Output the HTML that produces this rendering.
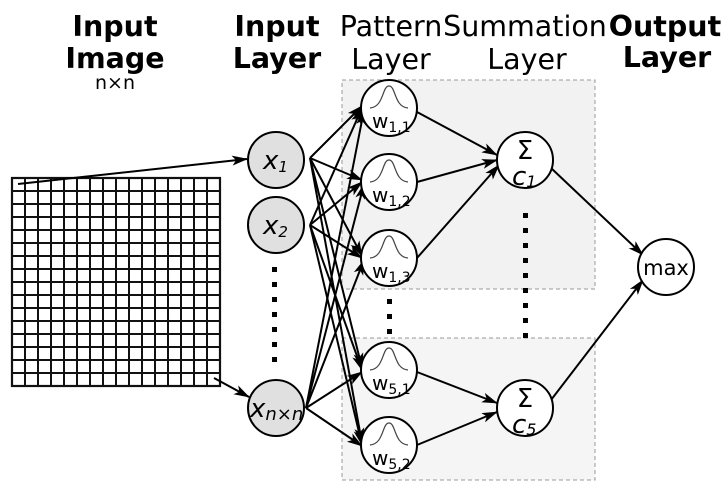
<!DOCTYPE html>
<html><head><meta charset="utf-8"><style>body{margin:0;background:#fff}svg{display:block}</style></head><body>
<svg width="727" height="487" xmlns="http://www.w3.org/2000/svg" font-family="DejaVu Sans, sans-serif">
<defs><marker id="a" markerWidth="16" markerHeight="10" refX="15" refY="5" orient="auto" markerUnits="userSpaceOnUse"><path d="M0,0 L16,5 L0,10 L4,5Z" fill="#000"/></marker></defs>
<g font-size="28.5" text-anchor="middle">
<text x="115" y="36" font-weight="bold">Input</text>
<text x="115" y="68" font-weight="bold">Image</text>
<text x="115" y="89" font-size="19">n×n</text>
<text x="277" y="36" font-weight="bold">Input</text>
<text x="277" y="68" font-weight="bold">Layer</text>
<text x="391" y="36">Pattern</text>
<text x="391" y="69">Layer</text>
<text x="525" y="36">Summation</text>
<text x="527" y="69">Layer</text>
<text x="665" y="36" font-weight="bold">Output</text>
<text x="667" y="67" font-weight="bold">Layer</text>
</g>
<rect x="342" y="80" width="253" height="209" fill="#f2f2f2" stroke="#999" stroke-dasharray="4,3"/>
<rect x="342" y="338" width="253" height="142" fill="#f5f5f5" stroke="#999" stroke-dasharray="4,3"/>
<g stroke="#111" stroke-width="2" fill="none">
<rect x="12" y="178" width="208" height="208" stroke-width="2.2"/>
<path d="M25,178V386M38,178V386M51,178V386M64,178V386M77,178V386M90,178V386M103,178V386M116,178V386M129,178V386M142,178V386M155,178V386M168,178V386M181,178V386M194,178V386M207,178V386
M12,191H220M12,204H220M12,217H220M12,230H220M12,243H220M12,256H220M12,269H220M12,282H220M12,295H220M12,308H220M12,321H220M12,334H220M12,347H220M12,360H220M12,373H220"/>
</g>
<g stroke="#000" stroke-width="2" marker-end="url(#a)">
<line x1="18" y1="184" x2="247" y2="159"/>
<line x1="214" y1="378" x2="249" y2="397"/>
<line x1="310" y1="158" x2="362" y2="106"/><line x1="310" y1="158" x2="362" y2="180"/><line x1="310" y1="158" x2="362" y2="256"/><line x1="310" y1="158" x2="362" y2="368"/><line x1="310" y1="158" x2="362" y2="443"/>
<line x1="310" y1="225" x2="362" y2="108"/><line x1="310" y1="225" x2="362" y2="182"/><line x1="310" y1="225" x2="362" y2="258"/><line x1="310" y1="225" x2="362" y2="370"/><line x1="310" y1="225" x2="362" y2="445"/>
<line x1="306" y1="408" x2="364" y2="110"/><line x1="306" y1="408" x2="364" y2="184"/><line x1="306" y1="408" x2="364" y2="260"/><line x1="306" y1="408" x2="362" y2="372"/><line x1="306" y1="408" x2="362" y2="446"/>
<line x1="417" y1="112" x2="497" y2="155"/><line x1="417" y1="182" x2="497" y2="160"/><line x1="417" y1="258" x2="499" y2="165"/>
<line x1="417" y1="372" x2="497" y2="403"/><line x1="417" y1="445" x2="497" y2="412"/>
<line x1="551" y1="168" x2="643" y2="255"/><line x1="551" y1="400" x2="643" y2="280"/>
</g>
<g stroke="#000" stroke-width="2">
<circle cx="276" cy="160" r="28" fill="#e0e0e0"/><circle cx="276" cy="225" r="28" fill="#e0e0e0"/><circle cx="276" cy="408" r="28" fill="#e0e0e0"/>
<circle cx="389" cy="108" r="28" fill="#fff"/><circle cx="389" cy="182" r="28" fill="#fff"/><circle cx="389" cy="258" r="28" fill="#fff"/><circle cx="389" cy="370" r="28" fill="#fff"/><circle cx="389" cy="445" r="28" fill="#fff"/>
<circle cx="525" cy="160" r="28" fill="#fff"/><circle cx="525" cy="408" r="28" fill="#fff"/>
<circle cx="666" cy="267" r="28" fill="#fff"/>
</g>
<g stroke="#444" stroke-width="1.2" fill="none">
<path d="M370,108 C384,107 382,86 389,86 C396,86 394,107 408,108"/>
<path d="M370,108 C384,107 382,86 389,86 C396,86 394,107 408,108" transform="translate(0,74)"/>
<path d="M370,108 C384,107 382,86 389,86 C396,86 394,107 408,108" transform="translate(0,150)"/>
<path d="M370,108 C384,107 382,86 389,86 C396,86 394,107 408,108" transform="translate(0,262)"/>
<path d="M370,108 C384,107 382,86 389,86 C396,86 394,107 408,108" transform="translate(0,337)"/>
</g>
<g font-size="20">
<text x="372" y="128">w<tspan font-size="14" dy="4">1,1</tspan></text>
<text x="372" y="202">w<tspan font-size="14" dy="4">1,2</tspan></text>
<text x="372" y="278">w<tspan font-size="14" dy="4">1,3</tspan></text>
<text x="372" y="390">w<tspan font-size="14" dy="4">5,1</tspan></text>
<text x="372" y="465">w<tspan font-size="14" dy="4">5,2</tspan></text>
</g>
<g font-size="26" font-style="italic">
<text x="263" y="169">x<tspan font-size="15" dy="3">1</tspan></text>
<text x="263" y="234">x<tspan font-size="15" dy="3">2</tspan></text>
<text x="250" y="417">x<tspan font-size="18" dy="3">n×n</tspan></text>
<text x="512" y="185">c<tspan font-size="16" dy="2">1</tspan></text>
<text x="512" y="433">c<tspan font-size="16" dy="2">5</tspan></text>
</g>
<g font-size="26" text-anchor="middle">
<text x="525" y="159">Σ</text><text x="525" y="407">Σ</text>
<text x="666" y="275" font-size="21">max</text>
</g>
<g fill="#000">
<rect x="272" y="267" width="5" height="5"/><rect x="272" y="282" width="5" height="5"/><rect x="272" y="297" width="5" height="5"/><rect x="272" y="312" width="5" height="5"/><rect x="272" y="327" width="5" height="5"/><rect x="272" y="342" width="5" height="5"/><rect x="272" y="357" width="5" height="5"/>
<rect x="387" y="299" width="5" height="5"/><rect x="387" y="314" width="5" height="5"/><rect x="387" y="329" width="5" height="5"/>
<rect x="523" y="213" width="5" height="5"/><rect x="523" y="228" width="5" height="5"/><rect x="523" y="243" width="5" height="5"/><rect x="523" y="258" width="5" height="5"/><rect x="523" y="273" width="5" height="5"/><rect x="523" y="288" width="5" height="5"/><rect x="523" y="303" width="5" height="5"/><rect x="523" y="318" width="5" height="5"/><rect x="523" y="333" width="5" height="5"/>
</g>
</svg>
</body></html>
